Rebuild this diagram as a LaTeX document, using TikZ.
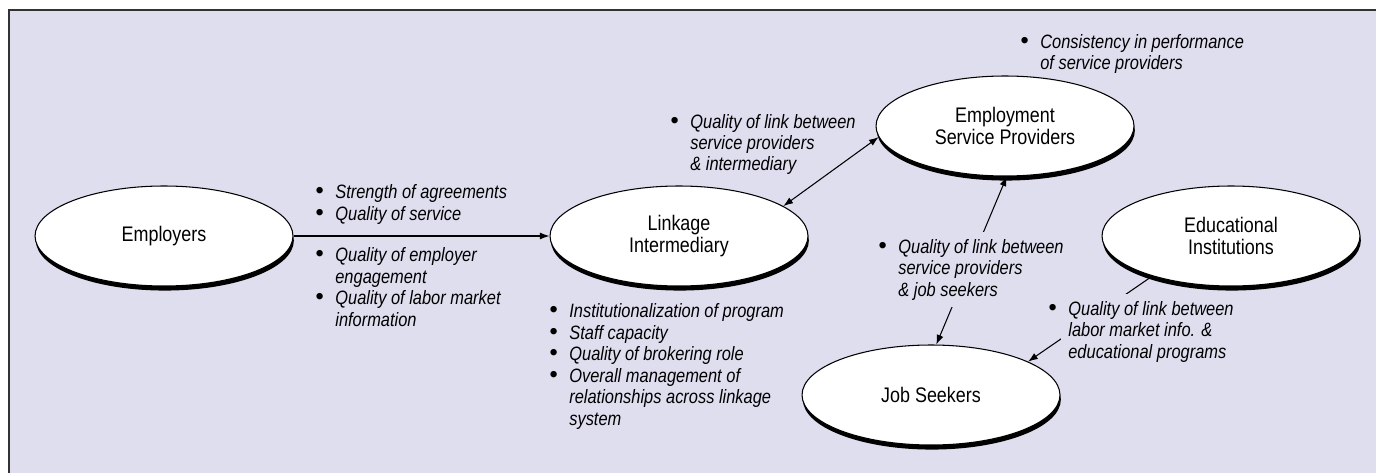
\documentclass[tikz,border=0pt]{standalone}
\usepackage{fontspec}
\setmainfont{Liberation Sans}[FakeStretch=0.85]
\newfontfamily\dotfont{Liberation Sans}
\usetikzlibrary{arrows.meta,shapes.geometric,shadows}
\definecolor{panelbg}{RGB}{223,222,239}
\definecolor{framegray}{RGB}{50,50,50}

% hanging bullet, sits left of the text column
\newcommand{\itm}{\llap{\makebox[0.4cm][l]{\dotfont\fontsize{13.5}{13.5}\selectfont\textbullet}}}

\tikzset{
  actor/.style={ellipse, draw, fill=white, line width=0.6pt,
    minimum width=5.16cm, minimum height=2cm, inner sep=0pt, align=center,
    font=\fontsize{12}{12.9}\selectfont,
    drop shadow={fill=black, opacity=1, shadow xshift=0.5pt, shadow yshift=-2.6pt}},
  flow/.style={line width=0.6pt, -{Latex[length=5.5pt,width=4pt]}},
  twoway/.style={line width=0.6pt, {Latex[length=5.5pt,width=4pt]}-{Latex[length=5.5pt,width=4pt]}},
  % notes are placed by the baseline of their last line
  note/.style={anchor=base west, inner sep=0pt, align=left,
    font=\fontsize{11}{12.2}\selectfont\itshape},
  blank/.style={fill=panelbg, inner sep=4pt, xshift=-4pt}
}

\begin{document}
\begin{tikzpicture}[x=0.02cm, y=-0.02cm]
  \useasboundingbox (0,0) rectangle (1376,473);
  \clip (0,0) rectangle (1376,473);

  % panel
  \fill[panelbg] (9,10) rectangle (1390,490);
  \draw[framegray, line width=0.9pt] (9,490) -- (9,10) -- (1390,10);

  % actors
  \node[actor] (emp) at (164,236) {Employers};
  \node[actor] (lnk) at (679,236) {Linkage\\Intermediary};
  \node[actor] (esp) at (1005,126) {Employment\\Service Providers};
  \node[actor] (edu) at (1231,236) {Educational\\Institutions};
  \node[actor] (js)  at (931,395) {Job Seekers};

  % connections
  \draw[flow] (emp.east) -- (lnk.west);
  \draw[twoway] (lnk.16) -- (esp.185);
  \draw[twoway] (js.84) -- (esp.272);
  \draw[flow] (edu.207) -- (js.19);

  % notes
  \node[note] (agree) at (335,220) {\itm Strength of agreements\\\itm Quality of service};
  \node[note] (engage) at (335,326) {\itm Quality of employer\\engagement\\\itm Quality of labor market\\information};
  \node[note] (broker) at (569,425) {\itm Institutionalization of program\\\itm Staff capacity\\\itm Quality of brokering role\\\itm Overall management of\\relationships across linkage\\system};
  \node[note] (lnkesp) at (690,171) {\itm Quality of link between\\service providers\\\& intermediary};
  \node[note] (consist) at (1040,70) {\itm Consistency in performance\\of service providers};
  \node[note, blank] (espjs) at (898,296) {\itm Quality of link between\\service providers\\\& job seekers};
  \node[note, blank] (edujs) at (1068,358) {\itm Quality of link between\\labor market info. \&\\educational programs};
\end{tikzpicture}
\end{document}
